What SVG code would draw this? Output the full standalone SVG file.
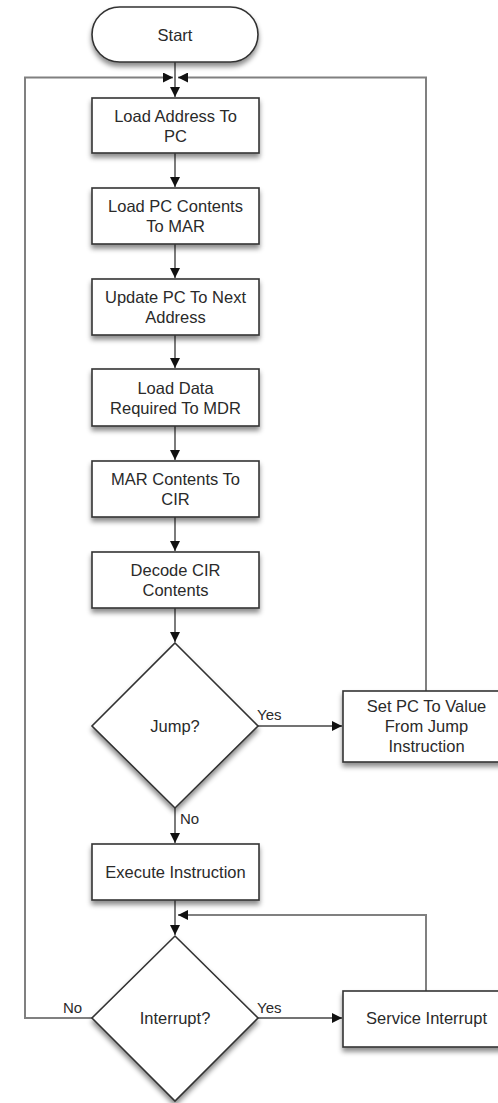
<svg xmlns="http://www.w3.org/2000/svg" width="498" height="1103" viewBox="0 0 498 1103">
<style>
  .shape { fill: #ffffff; stroke: #333333; stroke-width: 1.6; filter: url(#shadow); }
  .lbl { font-family: "Liberation Sans", Arial, sans-serif; font-size: 16.5px; fill: #2a2a2a; text-anchor: middle; }
  .elbl { font-family: "Liberation Sans", Arial, sans-serif; font-size: 15px; fill: #2a2a2a; }
  .conn { fill: none; stroke: #444444; stroke-width: 1.4; }
  .loop { fill: none; stroke: #808080; stroke-width: 2; }
</style>
<defs>
  <filter id="shadow" x="-20%" y="-20%" width="140%" height="150%">
    <feDropShadow dx="0" dy="4" stdDeviation="2.5" flood-color="#000000" flood-opacity="0.45"/>
  </filter>
  <marker id="arr" viewBox="0 0 10 10" refX="10" refY="5" markerWidth="10" markerHeight="10" markerUnits="userSpaceOnUse" orient="auto">
    <path d="M0,0 L10,5 L0,10 Z" fill="#111111"/>
  </marker>
  <marker id="arrw" viewBox="0 0 10 10" refX="10" refY="5" markerWidth="13" markerHeight="10" markerUnits="userSpaceOnUse" orient="auto">
    <path d="M0,0 L10,5 L0,10 Z" fill="#111111"/>
  </marker>
</defs>
<rect width="498" height="1103" fill="#ffffff"/>

<g id="connectors">
  <path class="conn" d="M175,62 V97" marker-end="url(#arrw)"/>
  <path class="loop" d="M92,1018 H25 V77.5 H173" marker-end="url(#arrw)"/>
  <path class="loop" d="M426,691 V77.5 H178" marker-end="url(#arrw)"/>
  <path class="conn" d="M175,153 V187" marker-end="url(#arrw)"/>
  <path class="conn" d="M175,244 V278" marker-end="url(#arrw)"/>
  <path class="conn" d="M175,335 V368" marker-end="url(#arrw)"/>
  <path class="conn" d="M175,426 V460" marker-end="url(#arrw)"/>
  <path class="conn" d="M175,517 V551" marker-end="url(#arrw)"/>
  <path class="conn" d="M175,608 V642" marker-end="url(#arrw)"/>
  <path class="conn" d="M258,726 H342" marker-end="url(#arrw)"/>
  <path class="conn" d="M175,808 V843" marker-end="url(#arrw)"/>
  <path class="conn" d="M175,900 V935" marker-end="url(#arrw)"/>
  <path class="loop" d="M426,991 V915 H178" marker-end="url(#arrw)"/>
  <path class="conn" d="M258,1018 H342" marker-end="url(#arrw)"/>
  <text class="elbl" x="257" y="720">Yes</text>
  <text class="elbl" x="180" y="824">No</text>
  <text class="elbl" x="63" y="1013">No</text>
  <text class="elbl" x="257" y="1013">Yes</text>
</g>

<g id="start">
  <rect class="shape" x="92" y="7" width="166" height="55" rx="27.5" ry="27.5"/>
  <text class="lbl" x="175" y="40.5">Start</text>
</g>
<g id="load-address">
  <rect class="shape" x="92" y="98" width="167" height="55"/>
  <text class="lbl" x="175.5" y="121.5">Load Address To</text>
  <text class="lbl" x="175.5" y="141.5">PC</text>
</g>
<g id="load-pc">
  <rect class="shape" x="92" y="188" width="167" height="56"/>
  <text class="lbl" x="175.5" y="212">Load PC Contents</text>
  <text class="lbl" x="175.5" y="232">To MAR</text>
</g>
<g id="update-pc">
  <rect class="shape" x="92" y="279" width="167" height="56"/>
  <text class="lbl" x="175.5" y="303">Update PC To Next</text>
  <text class="lbl" x="175.5" y="323">Address</text>
</g>
<g id="load-data">
  <rect class="shape" x="92" y="369" width="167" height="57"/>
  <text class="lbl" x="175.5" y="393.5">Load Data</text>
  <text class="lbl" x="175.5" y="413.5">Required To MDR</text>
</g>
<g id="mar-cir">
  <rect class="shape" x="92" y="461" width="167" height="56"/>
  <text class="lbl" x="175.5" y="485">MAR Contents To</text>
  <text class="lbl" x="175.5" y="505">CIR</text>
</g>
<g id="decode">
  <rect class="shape" x="92" y="552" width="167" height="56"/>
  <text class="lbl" x="175.5" y="576">Decode CIR</text>
  <text class="lbl" x="175.5" y="596">Contents</text>
</g>
<g id="jump">
  <polygon class="shape" points="175,643 258,726 175,808 92,726"/>
  <text class="lbl" x="175" y="731.5">Jump?</text>
</g>
<g id="set-pc">
  <rect class="shape" x="343" y="691" width="167" height="71"/>
  <text class="lbl" x="426.5" y="712">Set PC To Value</text>
  <text class="lbl" x="426.5" y="732">From Jump</text>
  <text class="lbl" x="426.5" y="752">Instruction</text>
</g>
<g id="execute">
  <rect class="shape" x="92" y="844" width="167" height="56"/>
  <text class="lbl" x="175.5" y="878">Execute Instruction</text>
</g>
<g id="interrupt">
  <polygon class="shape" points="175,936 258,1018 175,1101 92,1018"/>
  <text class="lbl" x="175" y="1023.5">Interrupt?</text>
</g>
<g id="service">
  <rect class="shape" x="343" y="991" width="167" height="56"/>
  <text class="lbl" x="426.5" y="1024">Service Interrupt</text>
</g>
</svg>
